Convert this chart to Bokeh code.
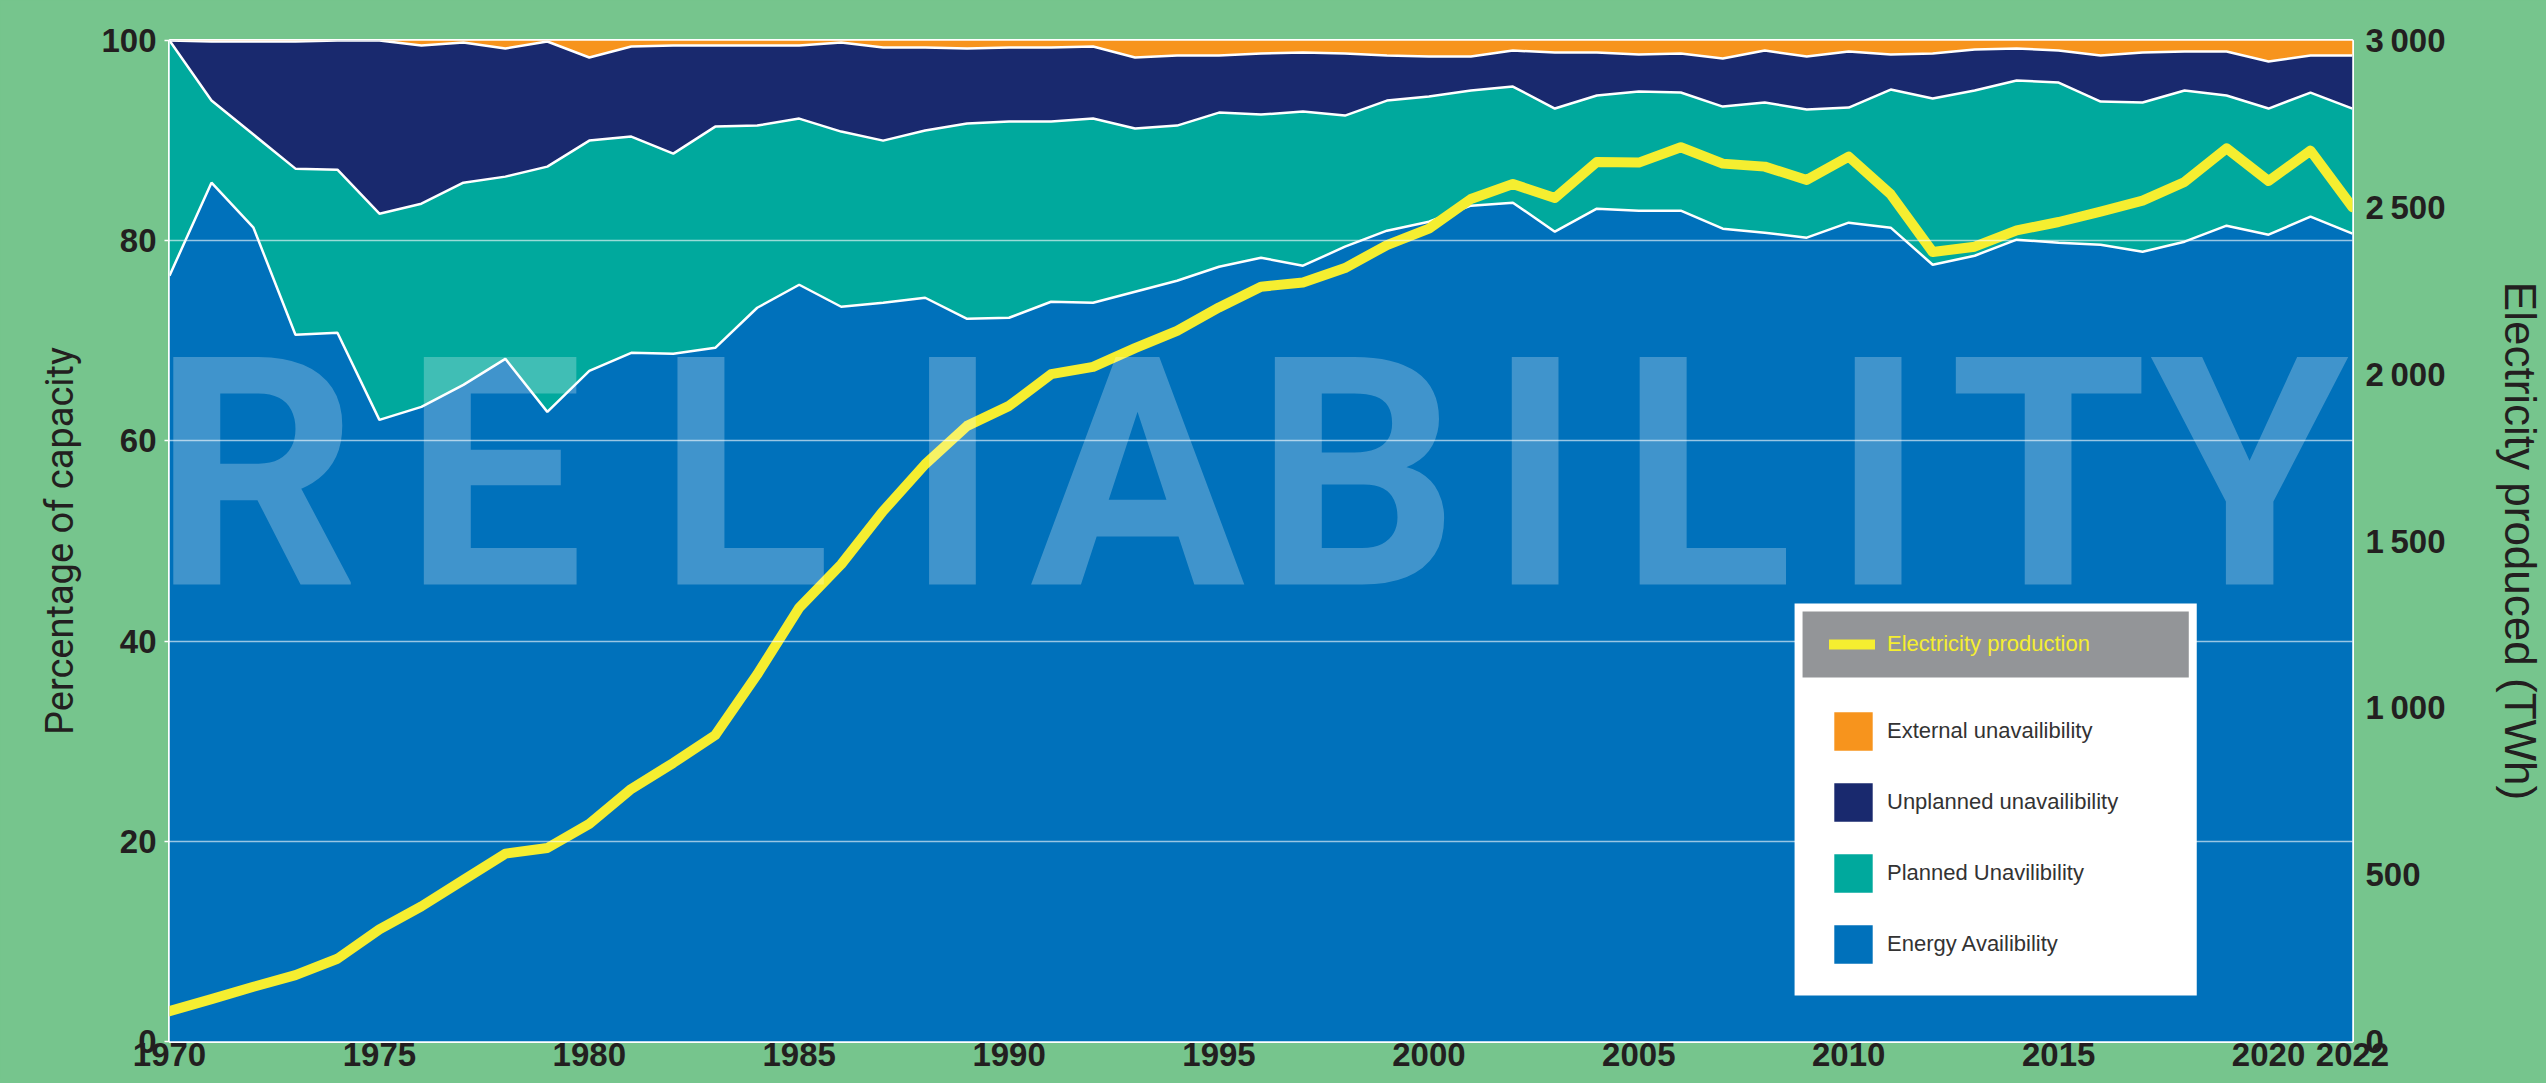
import numpy as np
from bokeh.plotting import figure
from bokeh.models import (ColumnDataSource, Range1d, LinearAxis, FixedTicker, Legend,
                          LegendItem, BoxAnnotation, GlobalInlineStyleSheet)
from bokeh.core.properties import value
from bokeh.embed import file_html
from bokeh.resources import INLINE

# ---------------- data ----------------
years = list(range(1970, 2023))

energy_availability = [
    76.5, 85.8, 81.3, 70.6, 70.8, 62.1, 63.4, 65.6, 68.2, 62.9,
    67.0, 68.8, 68.7, 69.3, 73.3, 75.6, 73.4, 73.8, 74.3, 72.2,
    72.3, 73.9, 73.8, 74.9, 76.0, 77.4, 78.3, 77.5, 79.4, 81.0,
    81.9, 83.5, 83.8, 80.9, 83.2, 83.0, 83.0, 81.2, 80.8, 80.3,
    81.8, 81.3, 77.6, 78.5, 80.1, 79.8, 79.6, 78.9, 79.9, 81.5,
    80.6, 82.4, 80.7]

planned_unavailability = [
    23.5, 8.2, 9.3, 16.6, 16.3, 20.6, 20.3, 20.2, 18.2, 24.5,
    23.0, 21.6, 20.0, 22.1, 18.2, 16.6, 17.5, 16.2, 16.7, 19.5,
    19.6, 18.0, 18.4, 16.3, 15.5, 15.4, 14.3, 15.4, 13.1, 13.0,
    12.5, 11.5, 11.6, 12.3, 11.3, 11.9, 11.8, 12.2, 13.0, 12.8,
    11.5, 13.8, 16.6, 16.5, 15.9, 16.0, 14.3, 14.9, 15.1, 13.0,
    12.6, 12.4, 12.5]

unplanned_unavailability = [
    0.0, 5.9, 9.3, 12.7, 12.9, 17.3, 15.8, 14.0, 12.8, 12.5,
    8.3, 9.0, 10.8, 8.1, 8.0, 7.3, 8.9, 9.3, 8.3, 7.5,
    7.4, 7.4, 7.2, 7.1, 7.0, 5.7, 6.1, 5.9, 6.2, 4.5,
    4.0, 3.4, 3.6, 5.6, 4.3, 3.7, 3.9, 4.8, 5.2, 5.3,
    5.6, 3.5, 4.5, 4.1, 3.2, 3.2, 4.6, 5.0, 3.9, 4.4,
    4.7, 3.7, 5.3]

external_unavailability = [
    0.0, 0.1, 0.1, 0.1, 0.0, 0.0, 0.5, 0.2, 0.8, 0.1,
    1.7, 0.6, 0.5, 0.5, 0.5, 0.5, 0.2, 0.7, 0.7, 0.8,
    0.7, 0.7, 0.6, 1.7, 1.5, 1.5, 1.3, 1.2, 1.3, 1.5,
    1.6, 1.6, 1.0, 1.2, 1.2, 1.4, 1.3, 1.8, 1.0, 1.6,
    1.1, 1.4, 1.3, 0.9, 0.8, 1.0, 1.5, 1.2, 1.1, 1.1,
    2.1, 1.5, 1.5]

electricity_twh = [
    91, 127, 164, 199, 248, 336, 405, 484, 563, 580,
    652, 757, 835, 918, 1100, 1300, 1430, 1590, 1730, 1845,
    1905, 2000, 2022, 2078, 2130, 2200, 2262, 2275, 2318, 2387,
    2436, 2525, 2570, 2528, 2636, 2634, 2680, 2631, 2622, 2582,
    2652, 2539, 2366, 2382, 2431, 2456, 2487, 2520, 2576, 2677,
    2579, 2670, 2500]

year_ticks = [1970, 1975, 1980, 1985, 1990, 1995, 2000, 2005, 2010, 2015, 2020, 2022]
pct_ticks = [0, 20, 40, 60, 80, 100]
twh_ticks = [0, 500, 1000, 1500, 2000, 2500, 3000]
twh_tick_labels = ["0", "500", "1\u2009000", "1\u2009500", "2\u2009000", "2\u2009500", "3\u2009000"]

series_names = ["External unavailibility", "Unplanned unavailibility",
                "Planned Unavilibility", "Energy Availibility"]
line_name = "Electricity production"

# decorative watermark
watermark_letters = list("RELIABILITY")
watermark_x = [1972.05, 1977.72, 1983.68, 1988.65, 1993.06, 1998.28,
               2002.53, 2006.60, 2010.70, 2014.76, 2019.55]
watermark_mid = 56.6

# ---------------- style ----------------
GREEN = "#76C58D"
BLUE = "#0071BB"
TEAL = "#00A99D"
NAVY = "#19296E"
ORANGE = "#F7941D"
YELLOW = "#F5EE30"
GRAY = "#939598"
INK = "#231F20"

source = ColumnDataSource(dict(
    year=years,
    energy=energy_availability,
    planned=planned_unavailability,
    unplanned=unplanned_unavailability,
    external=external_unavailability,
    twh=electricity_twh,
))

p = figure(frame_width=2183, frame_height=1001,
           x_range=Range1d(1970, 2022), y_range=Range1d(0, 100),
           output_backend="svg", toolbar_location=None,
           min_border_left=169, min_border_right=194, min_border_top=40, min_border_bottom=38,
           background_fill_color=BLUE, border_fill_color=GREEN,
           outline_line_color="white", outline_line_width=3)
p.extra_y_ranges = {"twh": Range1d(0, 3000)}

areas = p.varea_stack(["energy", "planned", "unplanned", "external"], x="year",
                      color=[BLUE, TEAL, NAVY, ORANGE], source=source)
p.vline_stack(["energy", "planned", "unplanned"], x="year", source=source,
              line_color="white", line_width=2.5)

prod = p.line(x="year", y="twh", y_range_name="twh", source=source,
              line_color=YELLOW, line_width=10, line_join="round", line_cap="round")

wm = ColumnDataSource(dict(x=watermark_x, y=[watermark_mid] * len(watermark_x),
                           t=watermark_letters))
p.text(x="x", y="y", text="t", source=wm, text_font=value("Roboto"),
       text_font_style="bold", text_font_size="320px", text_color="white",
       text_alpha=0.25, text_align="center", text_baseline="middle")

# grid
p.xgrid.visible = False
p.ygrid.ticker = FixedTicker(ticks=pct_ticks)
p.ygrid.grid_line_color = "white"
p.ygrid.grid_line_alpha = 0.6
p.ygrid.grid_line_width = 1.5
p.ygrid.level = "guide"

# axes
lab_font = "Liberation Sans"
xa = p.xaxis[0]
xa.ticker = FixedTicker(ticks=year_ticks)
xa.axis_line_color = None
xa.major_tick_line_color = None
xa.minor_tick_line_color = None
xa.major_tick_out = 0
xa.major_tick_in = 0
xa.major_label_standoff = 1
xa.major_label_text_font = lab_font
xa.major_label_text_font_style = "bold"
xa.major_label_text_font_size = "33px"
xa.major_label_text_color = INK

ya = p.yaxis[0]
ya.ticker = FixedTicker(ticks=pct_ticks)
ya.axis_line_color = None
ya.minor_tick_line_color = None
ya.major_tick_in = 0
ya.major_tick_out = 5
ya.major_tick_line_color = "white"
ya.major_tick_line_width = 1.5
ya.major_label_standoff = 8
ya.major_label_text_font = lab_font
ya.major_label_text_font_style = "bold"
ya.major_label_text_font_size = "33px"
ya.major_label_text_color = INK
ya.axis_label = "Percentage of capacity"
ya.axis_label_text_font = "Roboto"
ya.axis_label_text_font_style = "normal"
ya.axis_label_text_font_size = "38px"
ya.axis_label_text_color = INK
ya.axis_label_standoff = 16

ra = LinearAxis(y_range_name="twh", ticker=FixedTicker(ticks=twh_ticks),
                major_label_overrides={t: s for t, s in zip(twh_ticks, twh_tick_labels)})
ra.axis_line_color = None
ra.minor_tick_line_color = None
ra.major_tick_line_color = None
ra.major_tick_in = 0
ra.major_tick_out = 0
ra.major_label_standoff = 13
ra.major_label_text_font = lab_font
ra.major_label_text_font_style = "bold"
ra.major_label_text_font_size = "33px"
ra.major_label_text_color = INK
ra.axis_label = "Electricity produced (TWh)"
ra.axis_label_text_font = lab_font
ra.axis_label_text_font_style = "normal"
ra.axis_label_text_font_size = "44px"
ra.axis_label_text_color = INK
ra.axis_label_standoff = 47
p.add_layout(ra, "right")

# legend box
p.add_layout(BoxAnnotation(left=2008.71, right=2018.29, bottom=4.6, top=43.76,
                           fill_color="white", fill_alpha=1.0, line_color=None))
p.add_layout(BoxAnnotation(left=2008.90, right=2018.10, bottom=36.36, top=42.96,
                           fill_color=GRAY, fill_alpha=1.0, line_color=None))

leg_head = Legend(items=[LegendItem(label=line_name, renderers=[prod])],
                  location=(1660, 384), margin=0, padding=10,
                  glyph_width=46, glyph_height=24, label_height=24, label_standoff=12,
                  label_text_font=lab_font, label_text_font_size="22px",
                  label_text_color=YELLOW, background_fill_alpha=0, border_line_color=None)
leg_items = Legend(items=[LegendItem(label=series_names[0], renderers=[areas[3]]),
                          LegendItem(label=series_names[1], renderers=[areas[2]]),
                          LegendItem(label=series_names[2], renderers=[areas[1]]),
                          LegendItem(label=series_names[3], renderers=[areas[0]])],
                   location=(1660, 73), margin=0, padding=10, spacing=23,
                   glyph_width=48, glyph_height=48, label_height=48, label_standoff=10,
                   label_text_font=lab_font, label_text_font_size="22px",
                   label_text_color="#333333", background_fill_alpha=0, border_line_color=None)
p.add_layout(leg_head)
p.add_layout(leg_items)

p.stylesheets = [GlobalInlineStyleSheet(
    css="html, body { background-color: %s; margin: 0; padding: 0; overflow: hidden; }" % GREEN)]

open("out.html", "w").write(file_html(p, INLINE))
